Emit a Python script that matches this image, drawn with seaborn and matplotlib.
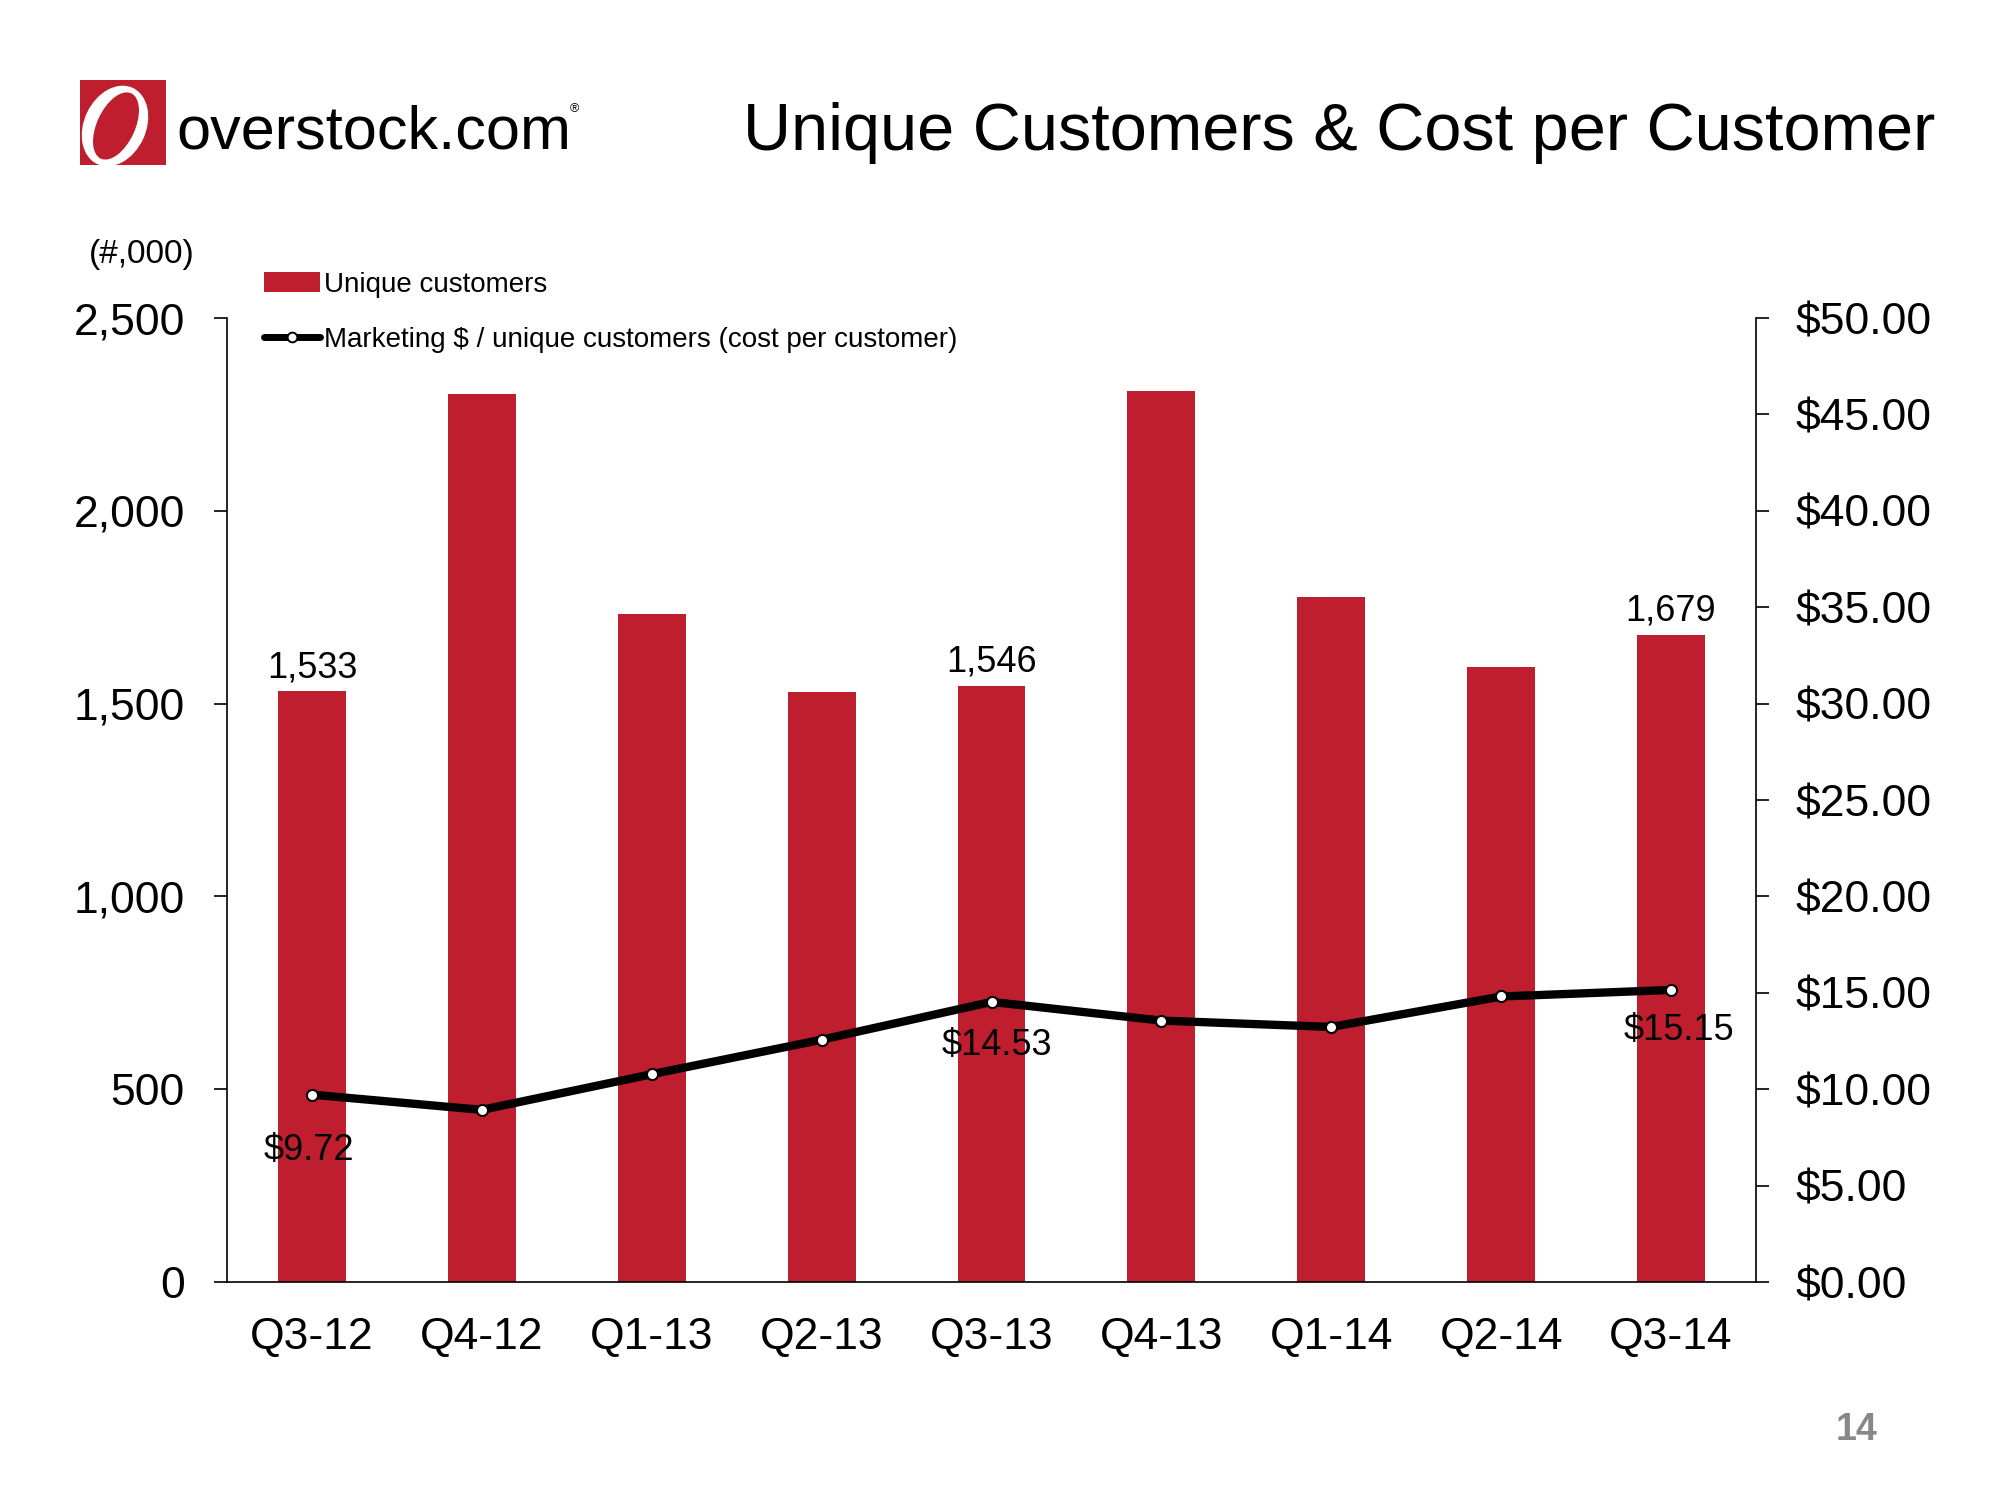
import matplotlib
matplotlib.use("Agg")
import matplotlib.pyplot as plt
import seaborn as sns
from matplotlib.lines import Line2D
from matplotlib.patches import Ellipse, Patch

quarters = ["Q3-12", "Q4-12", "Q1-13", "Q2-13", "Q3-13", "Q4-13", "Q1-14", "Q2-14", "Q3-14"]
customers = [1533, 2302, 1733, 1531, 1546, 2311, 1776, 1594, 1679]
cost_per_customer = [9.72, 8.93, 10.78, 12.57, 14.53, 13.56, 13.23, 14.81, 15.15]

left_ticks = [0, 500, 1000, 1500, 2000, 2500]
left_labels = ["0", "500", "1,000", "1,500", "2,000", "2,500"]
right_ticks = [0, 5, 10, 15, 20, 25, 30, 35, 40, 45, 50]
right_labels = ["$0.00", "$5.00", "$10.00", "$15.00", "$20.00", "$25.00",
                "$30.00", "$35.00", "$40.00", "$45.00", "$50.00"]

# which points get a value label, and where (offset in points)
bar_labels = {0: "1,533", 4: "1,546", 8: "1,679"}
cost_labels = {0: ("$9.72", -2, -47), 4: ("$14.53", 4, -38), 8: ("$15.15", 6, -36)}

bar_color = "#BF1E2E"

sns.set_style("white")
plt.rcParams["font.family"] = ["Liberation Sans", "DejaVu Sans"]
plt.rcParams["text.color"] = "black"
plt.rcParams["xtick.color"] = "black"
plt.rcParams["ytick.color"] = "black"

fig = plt.figure(figsize=(20, 15), dpi=100)
ax = fig.add_axes([0.1135, 0.1453, 0.7645, 0.6427])
ax2 = ax.twinx()

sns.barplot(x=quarters, y=customers, color=bar_color, width=0.4, saturation=1,
            linewidth=0, ax=ax)
sns.pointplot(x=quarters, y=cost_per_customer, ax=ax2, color="black", errorbar=None,
              linewidth=6, markersize=8, markerfacecolor="white",
              markeredgecolor="black", markeredgewidth=1.5)

for i, txt in bar_labels.items():
    ax.annotate(txt, (i, customers[i]), xytext=(0, 10), textcoords="offset points",
                ha="center", va="baseline", fontsize=26)
for i, (txt, dx, dy) in cost_labels.items():
    ax2.annotate(txt, (i, cost_per_customer[i]), xytext=(dx, dy), textcoords="offset points",
                 ha="center", va="baseline", fontsize=26)

# axes styling
ax.set_xlim(-0.5, len(quarters) - 0.5)
ax.set_ylim(0, 2500)
ax2.set_ylim(0, 50)
ax.set_xticks(range(len(quarters)))
ax.set_xticklabels(quarters)
ax.set_xticks([i - 0.5 for i in range(len(quarters) + 1)], minor=True)
ax.tick_params(axis="x", which="major", length=0, pad=25, labelsize=32)
ax.tick_params(axis="x", which="minor", length=9.4, width=1.2, direction="out", color="black")
ax.set_yticks(left_ticks)
ax.set_yticklabels(left_labels)
ax.tick_params(axis="y", length=9.4, width=1.2, direction="out", pad=21, labelsize=32,
               left=True, color="black")
ax2.set_yticks(right_ticks)
ax2.set_yticklabels(right_labels)
ax2.tick_params(axis="y", length=9.4, width=1.2, direction="out", pad=19, labelsize=32,
                right=True, color="black")
ax.set_xlabel("")
ax.set_ylabel("")
ax2.set_xlabel("")
ax2.set_ylabel("")

for a in (ax, ax2):
    a.grid(False)
    a.spines["top"].set_visible(False)
    for s in a.spines.values():
        s.set_color("black")
        s.set_linewidth(1.2)
ax.spines["right"].set_visible(False)
ax2.spines["left"].set_visible(False)
ax2.spines["bottom"].set_visible(False)

# legend
handles = [
    Patch(facecolor=bar_color, edgecolor="none"),
    Line2D([], [], color="black", lw=5, marker="o", markerfacecolor="white",
           markeredgecolor="black", markeredgewidth=1.4, markersize=7),
]
fig.legend(handles, ["Unique customers", "Marketing $ / unique customers (cost per customer)"],
           loc="upper left", bbox_to_anchor=(0.132, 0.819), frameon=False, fontsize=20,
           handlelength=2.0, handletextpad=0.15, labelspacing=1.05, borderpad=0,
           borderaxespad=0)

# header: logo, title, unit label, page number
logo = fig.add_axes([0.04, 0.89, 0.043, 0.0567])
logo.set_xlim(0, 86)
logo.set_ylim(0, 85)
logo.set_facecolor(bar_color)
logo.set_xticks([])
logo.set_yticks([])
for s in logo.spines.values():
    s.set_visible(False)
logo.add_patch(Ellipse((35, 39), 62, 84, angle=-25, facecolor="white", edgecolor="none"))
logo.add_patch(Ellipse((36, 39), 38, 72, angle=-25, facecolor=bar_color, edgecolor="none"))

fig.text(0.088, 0.9007, "overstock.com", fontsize=44, ha="left", va="baseline")
fig.text(0.285, 0.925, "®", fontsize=9, ha="left", va="baseline")
fig.text(0.9675, 0.9, "Unique Customers & Cost per Customer", fontsize=48,
         ha="right", va="baseline")
fig.text(0.071, 0.83, "(#,000)", fontsize=24, ha="center", va="center")
fig.text(0.9285, 0.0467, "14", fontsize=27, fontweight="bold", color="#888888",
         ha="center", va="center")

fig.savefig("out.png", dpi=100, facecolor="white")
